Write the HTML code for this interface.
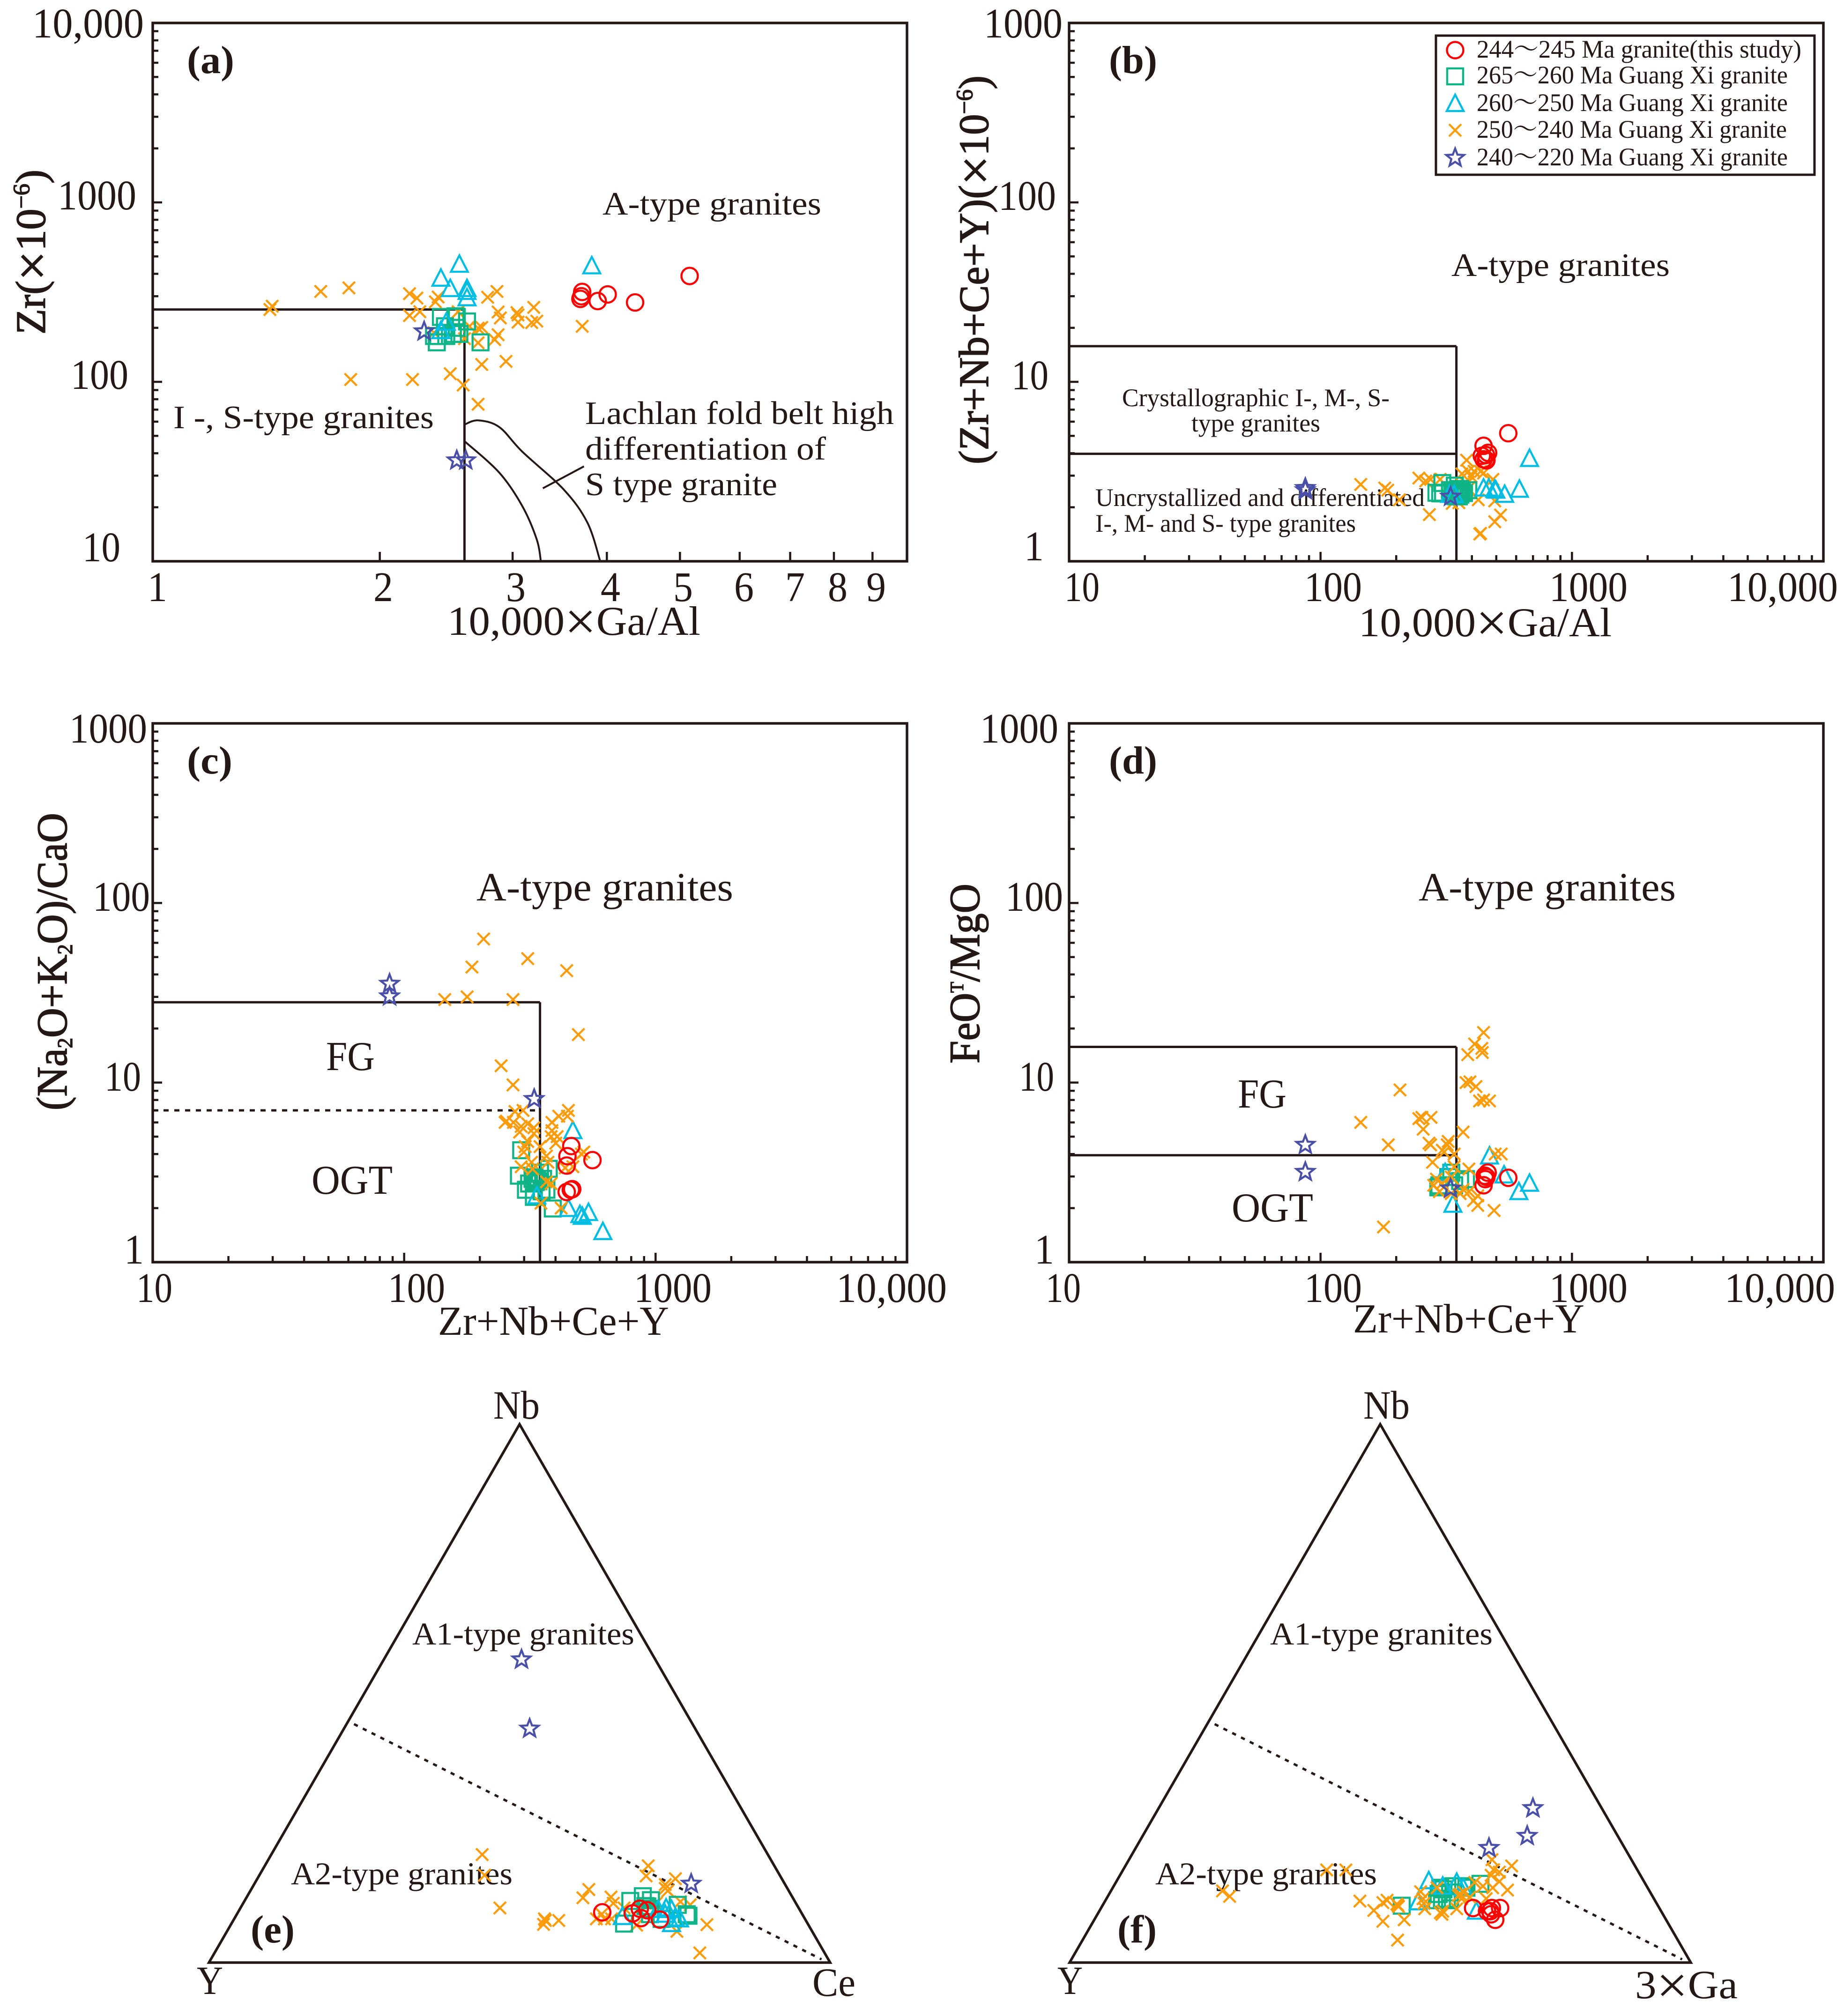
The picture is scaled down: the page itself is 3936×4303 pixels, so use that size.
<!DOCTYPE html>
<html lang="en">
<head>
<meta charset="utf-8">
<title>Granite discrimination diagrams</title>
<style>
html,body{margin:0;padding:0;background:#fff}
svg{display:block}
text{font-family:"Liberation Serif","Noto Serif CJK SC",serif;fill:#231815}
.bold{font-weight:700}
.ytitle{stroke:#231815;stroke-width:1.6px}
</style>
</head>
<body>
<svg id="figure" xmlns="http://www.w3.org/2000/svg" width="3936" height="4303" viewBox="0 0 3936 4303">
<rect width="3936" height="4303" fill="#ffffff"/>

<g id="panel-a">
<text x="69" y="80" font-size="90" textLength="238" lengthAdjust="spacingAndGlyphs">10,000</text>
<text x="123" y="447" font-size="90" textLength="168" lengthAdjust="spacingAndGlyphs">1000</text>
<text x="151" y="830" font-size="90" textLength="123" lengthAdjust="spacingAndGlyphs">100</text>
<text x="176" y="1198" font-size="90" textLength="81" lengthAdjust="spacingAndGlyphs">10</text>
<text x="336" y="1283" font-size="90" text-anchor="middle" textLength="42" lengthAdjust="spacingAndGlyphs">1</text>
<text x="818" y="1283" font-size="90" text-anchor="middle" textLength="42" lengthAdjust="spacingAndGlyphs">2</text>
<text x="1101" y="1283" font-size="90" text-anchor="middle" textLength="42" lengthAdjust="spacingAndGlyphs">3</text>
<text x="1303" y="1283" font-size="90" text-anchor="middle" textLength="42" lengthAdjust="spacingAndGlyphs">4</text>
<text x="1458" y="1283" font-size="90" text-anchor="middle" textLength="42" lengthAdjust="spacingAndGlyphs">5</text>
<text x="1588" y="1283" font-size="90" text-anchor="middle" textLength="42" lengthAdjust="spacingAndGlyphs">6</text>
<text x="1697" y="1283" font-size="90" text-anchor="middle" textLength="42" lengthAdjust="spacingAndGlyphs">7</text>
<text x="1788" y="1283" font-size="90" text-anchor="middle" textLength="42" lengthAdjust="spacingAndGlyphs">8</text>
<text x="1870" y="1283" font-size="90" text-anchor="middle" textLength="42" lengthAdjust="spacingAndGlyphs">9</text>
<text x="955" y="1355" font-size="88" textLength="540" lengthAdjust="spacingAndGlyphs">10,000<tspan font-size="116" dy="10">×</tspan><tspan dy="-10">Ga/Al</tspan></text>
<text class="ytitle" x="96" y="714" font-size="90" transform="rotate(-90 96 714)" textLength="352" lengthAdjust="spacingAndGlyphs">Zr(<tspan font-size="112" dy="10">×</tspan><tspan dy="-10">10</tspan><tspan dy="-34" font-size="50">−6</tspan><tspan dy="34">)</tspan></text>
<text class="bold" x="399" y="156" font-size="84" textLength="101" lengthAdjust="spacingAndGlyphs">(a)</text>
<text x="1286" y="458" font-size="70" textLength="467" lengthAdjust="spacingAndGlyphs">A-type granites</text>
<text x="370" y="914" font-size="70" textLength="556" lengthAdjust="spacingAndGlyphs">I -, S-type granites</text>
<text x="1249" y="905" font-size="70" textLength="659" lengthAdjust="spacingAndGlyphs">Lachlan fold belt high</text>
<text x="1249" y="981" font-size="70" textLength="514" lengthAdjust="spacingAndGlyphs">differentiation of</text>
<text x="1249" y="1057" font-size="70" textLength="410" lengthAdjust="spacingAndGlyphs">S type granite</text>
</g>

<g id="panel-b">
<text x="2100" y="80" font-size="90" textLength="168" lengthAdjust="spacingAndGlyphs">1000</text>
<text x="2131" y="448" font-size="90" textLength="123" lengthAdjust="spacingAndGlyphs">100</text>
<text x="2159" y="831" font-size="90" textLength="79" lengthAdjust="spacingAndGlyphs">10</text>
<text x="2186" y="1196" font-size="90" textLength="42" lengthAdjust="spacingAndGlyphs">1</text>
<text x="2272" y="1283" font-size="90" textLength="75" lengthAdjust="spacingAndGlyphs">10</text>
<text x="2784" y="1283" font-size="90" textLength="123" lengthAdjust="spacingAndGlyphs">100</text>
<text x="3307" y="1283" font-size="90" textLength="167" lengthAdjust="spacingAndGlyphs">1000</text>
<text x="3687" y="1283" font-size="90" textLength="236" lengthAdjust="spacingAndGlyphs">10,000</text>
<text x="2900" y="1358" font-size="88" textLength="540" lengthAdjust="spacingAndGlyphs">10,000<tspan font-size="116" dy="10">×</tspan><tspan dy="-10">Ga/Al</tspan></text>
<text class="ytitle" x="2109" y="991" font-size="90" transform="rotate(-90 2109 991)" textLength="830" lengthAdjust="spacingAndGlyphs">(Zr+Nb+Ce+Y)(<tspan font-size="112" dy="10">×</tspan><tspan dy="-10">10</tspan><tspan dy="-34" font-size="50">−6</tspan><tspan dy="34">)</tspan></text>
<text class="bold" x="2367" y="156" font-size="84" textLength="103" lengthAdjust="spacingAndGlyphs">(b)</text>
<text x="3098" y="589" font-size="70" textLength="466" lengthAdjust="spacingAndGlyphs">A-type granites</text>
<text x="2395" y="867" font-size="54" textLength="571" lengthAdjust="spacingAndGlyphs">Crystallographic I-, M-, S-</text>
<text x="2543" y="921" font-size="54" textLength="275" lengthAdjust="spacingAndGlyphs">type granites</text>
<text x="2338" y="1080" font-size="54" textLength="703" lengthAdjust="spacingAndGlyphs">Uncrystallized and differentiated</text>
<text x="2338" y="1135" font-size="54" textLength="556" lengthAdjust="spacingAndGlyphs">I-, M- and S- type granites</text>
</g>

<g id="panel-c">
<text x="148" y="1585" font-size="90" textLength="166" lengthAdjust="spacingAndGlyphs">1000</text>
<text x="198" y="1944" font-size="90" textLength="122" lengthAdjust="spacingAndGlyphs">100</text>
<text x="223" y="2328" font-size="90" textLength="78" lengthAdjust="spacingAndGlyphs">10</text>
<text x="265" y="2697" font-size="90" textLength="42" lengthAdjust="spacingAndGlyphs">1</text>
<text x="291" y="2779" font-size="90" textLength="77" lengthAdjust="spacingAndGlyphs">10</text>
<text x="828" y="2779" font-size="90" textLength="122" lengthAdjust="spacingAndGlyphs">100</text>
<text x="1353" y="2779" font-size="90" textLength="166" lengthAdjust="spacingAndGlyphs">1000</text>
<text x="1785" y="2779" font-size="90" textLength="236" lengthAdjust="spacingAndGlyphs">10,000</text>
<text x="935" y="2849" font-size="88" textLength="493" lengthAdjust="spacingAndGlyphs">Zr+Nb+Ce+Y</text>
<text class="ytitle" x="142" y="2370" font-size="92" transform="rotate(-90 142 2370)" textLength="635" lengthAdjust="spacingAndGlyphs">(Na<tspan dy="12" font-size="46">2</tspan><tspan dy="-12">O+K</tspan><tspan dy="12" font-size="46">2</tspan><tspan dy="-12">O)/CaO</tspan></text>
<text class="bold" x="399" y="1651" font-size="84" textLength="97" lengthAdjust="spacingAndGlyphs">(c)</text>
<text x="1017" y="1922" font-size="86" textLength="548" lengthAdjust="spacingAndGlyphs">A-type granites</text>
<text x="696" y="2284" font-size="88" textLength="104" lengthAdjust="spacingAndGlyphs">FG</text>
<text x="665" y="2548" font-size="88" textLength="173" lengthAdjust="spacingAndGlyphs">OGT</text>
</g>

<g id="panel-d">
<text x="2092" y="1585" font-size="90" textLength="167" lengthAdjust="spacingAndGlyphs">1000</text>
<text x="2146" y="1944" font-size="90" textLength="123" lengthAdjust="spacingAndGlyphs">100</text>
<text x="2175" y="2328" font-size="90" textLength="75" lengthAdjust="spacingAndGlyphs">10</text>
<text x="2208" y="2697" font-size="90" textLength="42" lengthAdjust="spacingAndGlyphs">1</text>
<text x="2232" y="2779" font-size="90" textLength="75" lengthAdjust="spacingAndGlyphs">10</text>
<text x="2784" y="2779" font-size="90" textLength="123" lengthAdjust="spacingAndGlyphs">100</text>
<text x="3307" y="2779" font-size="90" textLength="167" lengthAdjust="spacingAndGlyphs">1000</text>
<text x="3681" y="2779" font-size="90" textLength="236" lengthAdjust="spacingAndGlyphs">10,000</text>
<text x="2888" y="2844" font-size="88" textLength="494" lengthAdjust="spacingAndGlyphs">Zr+Nb+Ce+Y</text>
<text class="ytitle" x="2090" y="2270" font-size="92" transform="rotate(-90 2090 2270)" textLength="384" lengthAdjust="spacingAndGlyphs">FeO<tspan dy="-34" font-size="40">T</tspan><tspan dy="34">/MgO</tspan></text>
<text class="bold" x="2367" y="1651" font-size="84" textLength="103" lengthAdjust="spacingAndGlyphs">(d)</text>
<text x="3028" y="1922" font-size="86" textLength="549" lengthAdjust="spacingAndGlyphs">A-type granites</text>
<text x="2642" y="2364" font-size="88" textLength="104" lengthAdjust="spacingAndGlyphs">FG</text>
<text x="2629" y="2607" font-size="88" textLength="174" lengthAdjust="spacingAndGlyphs">OGT</text>
</g>

<g id="panel-e">
<text x="1053" y="3028" font-size="86" textLength="99" lengthAdjust="spacingAndGlyphs">Nb</text>
<text x="420" y="4256" font-size="86" textLength="56" lengthAdjust="spacingAndGlyphs">Y</text>
<text x="1734" y="4260" font-size="86" textLength="92" lengthAdjust="spacingAndGlyphs">Ce</text>
<text x="880" y="3510" font-size="68" textLength="474" lengthAdjust="spacingAndGlyphs">A1-type granites</text>
<text x="621" y="4022" font-size="68" textLength="473" lengthAdjust="spacingAndGlyphs">A2-type granites</text>
<text class="bold" x="535" y="4146" font-size="84" textLength="94" lengthAdjust="spacingAndGlyphs">(e)</text>
</g>

<g id="panel-f">
<text x="2910" y="3028" font-size="86" textLength="99" lengthAdjust="spacingAndGlyphs">Nb</text>
<text x="2257" y="4256" font-size="86" textLength="54" lengthAdjust="spacingAndGlyphs">Y</text>
<text x="3490" y="4265" font-size="86" textLength="219" lengthAdjust="spacingAndGlyphs">3<tspan font-size="112" dy="10">×</tspan><tspan dy="-10">Ga</tspan></text>
<text x="2711" y="3510" font-size="68" textLength="475" lengthAdjust="spacingAndGlyphs">A1-type granites</text>
<text x="2466" y="4022" font-size="68" textLength="473" lengthAdjust="spacingAndGlyphs">A2-type granites</text>
<text class="bold" x="2385" y="4146" font-size="84" textLength="84" lengthAdjust="spacingAndGlyphs">(f)</text>
</g>

<g id="legend">
<rect x="3065" y="76" width="808" height="297" fill="#ffffff" stroke="#231815" stroke-width="5"/>
<text x="3152" y="123" font-size="54" textLength="693" lengthAdjust="spacingAndGlyphs">244～245 Ma granite(this study)</text>
<text x="3152" y="178" font-size="54" textLength="664" lengthAdjust="spacingAndGlyphs">265～260 Ma Guang Xi granite</text>
<text x="3152" y="237" font-size="54" textLength="664" lengthAdjust="spacingAndGlyphs">260～250 Ma Guang Xi granite</text>
<text x="3152" y="294" font-size="54" textLength="662" lengthAdjust="spacingAndGlyphs">250～240 Ma Guang Xi granite</text>
<text x="3152" y="353" font-size="54" textLength="664" lengthAdjust="spacingAndGlyphs">240～220 Ma Guang Xi granite</text>
</g>
</svg>

<script>
/* ---------- Panel (a): [10000*Ga/Al, Zr] ---------- */
const aCross = [[1.43,253],[1.44,264],[1.67,319],[1.82,334],[2.19,310],[2.24,293],[2.26,246],[2.19,234],[2.37,279],[2.39,297],[1.83,103],[2.21,103],[2.48,111],[2.58,96],[2.70,75],[2.73,125],[2.94,130],[2.78,296],[2.86,319],[2.87,245],[2.89,227],[3.04,243],[3.05,236],[3.05,215],[3.18,214],[3.2,260],[3.23,218],[3.71,204],[2.87,183],[2.84,172],[2.70,199],[2.73,201],[2.63,204],[2.54,246],[2.70,165],[2.59,174],[2.36,188]];
const aCircle = [[3.71,317],[3.70,300],[3.69,290],[3.89,282],[4.01,307],[4.36,277],[5.15,389]];
const aTriangle = [[2.55,452],[2.41,378],[2.48,331],[2.61,331],[2.61,319],[2.61,294],[3.82,443],[2.45,215],[2.41,193]];
const aSquare = [[2.41,230],[2.52,232],[2.61,217],[2.44,204],[2.50,185],[2.53,200],[2.39,180],[2.38,166],[2.72,166],[2.36,180],[2.45,180],[2.55,185],[2.53,230]];
const aStar = [[2.29,191],[2.53,36.5],[2.60,36.5]];
const aOuterCurve = [[2.59,57.8],[2.70,61],[2.88,56],[3.09,40.8],[3.51,25],[3.77,16.4],[3.92,10]];
const aInnerCurve = [[2.59,46.7],[2.88,31.2],[3.09,20.3],[3.23,13.2],[3.27,10]];
const aLeader = [[3.29,25.5],[3.73,33.8]];

/* ---------- Panel (b): [10000*Ga/Al, Zr+Nb+Ce+Y] ---------- */
const bCross = [[144.5,2.68],[180,2.56],[185,2.49],[206,2.20],[246,2.91],[271,1.82],[424,2.20],[493,2.17],[520,1.81],[493,1.66],[433,1.43],[430,1.42],[381,3.66],[387,3.17],[365,3.07],[408,3.17],[433,3.17],[397,2.97],[445,3.10],[485,2.86],[355,2.12],[334,2.10],[381,2.70],[387,2.54],[274,2.86],[299,2.86],[262,2.80]];
const bCircle = [[558,5.17],[445,4.40],[464,4.02],[455,3.91],[445,3.70],[455,3.68],[438,3.87],[457,3.65]];
const bTriangle = [[678,3.74],[618,2.52],[540,2.36],[498,2.49],[445,2.56],[467,2.56],[493,2.52],[326,2.36],[340,2.35]];
const bSquare = [[305,2.73],[342,2.64],[289,2.41],[307,2.39],[355,2.49],[387,2.49],[340,2.35],[299,2.39],[359,2.53],[327,2.49],[334,2.44],[350,2.40],[365,2.44],[360,2.35],[372,2.40],[345,2.30],[355,2.30]];
const bStar = [[87,2.56],[87,2.49],[329,2.29]];

/* ---------- Panel (c): [Zr+Nb+Ce+Y, (Na2O+K2O)/CaO] ---------- */
const cCross = [[207,63],[186,44],[310,49],[443,42],[145,29],[178,30],[271,29],[493,18.5],[243,12.4],[271,9.7],[450,7.0],[446,6.5],[412,6.5],[387,6.0],[387,5.4],[384,5.0],[406,5.0],[401,4.6],[347,4.4],[368,3.9],[373,3.6],[469,3.4],[507,4.0],[518,4.1],[437,3.35],[303,4.4],[299,4.1],[292,3.4],[321,3.6],[324,3.3],[368,2.8],[384,2.74],[350,2.13],[421,2.0],[297,7.0],[276,6.9],[255,6.1],[252,6.0],[272,6.0],[292,5.7],[310,5.9],[328,5.6],[288,5.3],[328,5.2],[310,4.7]];
const cCircle = [[462,4.43],[446,3.89],[443,3.45],[561,3.70],[443,2.46],[460,2.53],[466,2.55]];
const cTriangle = [[469,5.4],[450,1.99],[500,1.84],[541,1.89],[511,1.80],[617,1.48],[337,2.34]];
const cSquare = [[292,4.2],[286,3.03],[305,2.53],[328,2.31],[390,1.99],[376,3.31],[347,3.15],[357,2.91],[352,2.48],[368,2.53],[337,2.85],[314,2.74],[324,2.91],[330,2.97],[337,2.91],[333,2.79],[342,2.82],[328,2.85]];
const cStar = [[87.5,35.5],[87.5,30.2],[329,8.1]];

/* ---------- Panel (d): [Zr+Nb+Ce+Y, FeOT/MgO] ---------- */
const dCross = [[445,19],[410,16.4],[438,15.5],[440,14.7],[385,14.3],[379,10],[393,10.1],[415,9.5],[429,7.9],[445,8.0],[470,7.9],[207,9.1],[144.5,6.0],[246,6.3],[253,6.4],[275,6.4],[256,5.5],[369,5.3],[186,4.5],[270,4.6],[274,4.5],[322,4.7],[319,4.5],[305,4.2],[310,4.1],[340,4.0],[279,3.6],[495,4.0],[523,4.0],[178,1.57],[490,1.94],[422,2.07],[406,2.2],[389,2.47],[422,2.34],[289,2.9],[305,2.75],[331,2.98],[340,3.4],[389,3.3],[297,2.47],[282,2.68],[369,2.54],[359,2.41],[331,2.41]];
const dCircle = [[558,2.95],[450,3.03],[462,3.15],[452,2.9],[445,2.68],[457,2.98]];
const dTriangle = [[678,2.75],[615,2.47],[336,2.1],[470,3.9],[537,3.06],[313,3.15]];
const dSquare = [[294,2.61],[331,3.15],[359,2.83],[322,2.98],[297,2.68],[340,2.68],[379,2.9]];
const dStar = [[87,4.5],[87,3.18],[329,2.57]];

/* ---------- Panel (e): [Ce %, Nb %] ---------- */
const eCross = [[33.95,20.07],[36.24,16.24],[41.76,10.15],[49.95,8.12],[50.31,7.1],[50.23,7.83],[52.39,7.83],[54.36,13.57],[54.18,12.04],[58.63,12.18],[59.58,11.02],[58.73,8.99],[58.3,8.12],[59.6,8.12],[60.75,8.12],[61.72,17.98],[62.32,16.1],[67.3,15.57],[66.2,14.5],[67.2,13.34],[66.56,13.78],[76.63,7.05],[78.11,1.8],[72.42,5.8],[70.24,11.31],[65.36,6.96],[61.75,10.15],[66.49,11.02],[72.11,10.73]];
const eCircle = [[58.64,9.34],[63.64,9.14],[64.35,10.0],[65.71,9.72],[65.42,8.26],[68.6,7.98]];
const eSquare = [[62.1,11.45],[63.68,12.33],[65.35,11.6],[70.1,10.73],[63.2,7.25],[72.41,8.99],[68.81,8.12],[65.35,10.44],[72.84,8.7],[65.0,10.5],[66.0,10.0],[66.5,9.0]];
const eTriangle = [[62.26,8.56],[67.37,9.86],[68.51,10.15],[69.53,9.86],[71.69,8.12],[70.83,7.25],[70.89,8.27],[68.95,8.99]];
const eStar = [[22.16,56.31],[29.89,43.46],[70.3,14.65]];

/* ---------- Panel (f): [3*Ga %, Nb %] ---------- */
const fCross = [[41.02,11.43],[44.13,9.69],[44.86,11.15],[45.31,11.58],[46.6,7.67],[47.45,10.71],[47.25,10.86],[47.73,10.42],[49.89,7.95],[50.71,4.18],[49.92,13.17],[50.96,11.87],[52.17,9.99],[51.54,11.0],[52.19,13.9],[55.05,9.26],[55.29,9.55],[55.45,8.97],[57.32,9.99],[56.35,12.45],[56.98,13.03],[57.17,11.87],[56.47,12.74],[57.76,14.91],[58.35,12.16],[58.43,19.12],[59.64,17.24],[59.75,16.22],[60.78,16.8],[61.65,15.06],[62.18,17.96],[63.76,13.47],[61.16,13.9],[61.13,11.87],[59.44,14.19],[32.78,17.21],[35.86,17.21],[17.96,13.32],[19.61,12.31]];
const fCircle = [[59.89,10.13],[62.42,9.55],[62.92,10.13],[64.24,10.13],[63.37,8.97],[64.54,7.95],[62.95,9.55]];
const fSquare = [[48.18,10.57],[53.39,13.61],[54.69,14.19],[56.27,14.19],[58.82,14.63],[54.0,11.87],[53.04,12.74],[54.74,13.03],[53.36,11.58],[54.94,11.58],[55.32,11.87],[56.94,13.9],[52.72,13.9]];
const fTriangle = [[50.22,15.2],[50.46,11.29],[52.97,14.19],[54.86,14.91],[56.41,13.9],[60.7,9.55]];
const fStar = [[60.24,28.69],[61.9,23.53],[56.87,21.29]];

/* ---------- Field boundaries ---------- */
const aBoundary = {xLimit:2.59, yLimit:253};
const bBoundary = {xLimit:347, yUpper:15.8, yLower:3.97};
const cBoundary = {xLimit:347, yUpper:28, yDotted:7.0};
const dBoundary = {xLimit:347, yUpper:15.8, yLower:3.94};
const ternaryDivider = [[1.2,44.3],[98.3,0.6]];

/* ---------- Legend order ---------- */
const legendShapes = ['circle','square','triangle','cross','star'];

const NS = 'http://www.w3.org/2000/svg';
const INK = '#231815';
const COLORS = {circle:'#ff0000',square:'#0fb487',triangle:'#00bde3',cross:'#fd9c0b',star:'#4a50a7'};

function logScale(min,max,a,b){
  const l0=Math.log10(min), l1=Math.log10(max);
  return v => a+(Math.log10(v)-l0)/(l1-l0)*(b-a);
}
function line(parent,x1,y1,x2,y2,name,w,dash){
  const l=document.createElementNS(NS,'line');
  l.setAttribute('x1',x1);l.setAttribute('y1',y1);l.setAttribute('x2',x2);l.setAttribute('y2',y2);
  l.setAttribute('stroke',INK);l.setAttribute('stroke-width',w||5);
  if(dash)l.setAttribute('stroke-dasharray',dash);
  
  
  parent.appendChild(l);
  return l;
}
function smoothPath(parent,pts,name){
  let d='M'+pts[0][0]+' '+pts[0][1];
  for(let i=0;i<pts.length-1;i++){
    const p0=pts[i-1]||pts[i],p1=pts[i],p2=pts[i+1],p3=pts[i+2]||p2;
    d+=' C'+(p1[0]+(p2[0]-p0[0])/6)+' '+(p1[1]+(p2[1]-p0[1])/6)+' '+(p2[0]-(p3[0]-p1[0])/6)+' '+(p2[1]-(p3[1]-p1[1])/6)+' '+p2[0]+' '+p2[1];
  }
  const c=document.createElementNS(NS,'path');
  c.setAttribute('d',d);c.setAttribute('fill','none');c.setAttribute('stroke',INK);c.setAttribute('stroke-width',4);
  
  
  parent.appendChild(c);
}
function marker(parent,shape,x,y,name){
  let m;
  if(shape==='circle'){
    m=document.createElementNS(NS,'circle');
    m.setAttribute('cx',x);m.setAttribute('cy',y);m.setAttribute('r',17.5);
  }else if(shape==='square'){
    m=document.createElementNS(NS,'rect');
    m.setAttribute('x',x-17);m.setAttribute('y',y-17);m.setAttribute('width',34);m.setAttribute('height',34);
  }else if(shape==='triangle'){
    m=document.createElementNS(NS,'polygon');
    m.setAttribute('points',[[x,y-19],[x+18,y+16],[x-18,y+16]].map(p=>p.join(',')).join(' '));
  }else if(shape==='cross'){
    m=document.createElementNS(NS,'path');
    m.setAttribute('d','M'+(x-13)+' '+(y-13)+'L'+(x+13)+' '+(y+13)+'M'+(x+13)+' '+(y-13)+'L'+(x-13)+' '+(y+13));
  }else{
    const pts=[];
    for(let i=0;i<10;i++){
      const r=i%2?8.5:20,t=-Math.PI/2+i*Math.PI/5;
      pts.push((x+r*Math.cos(t)).toFixed(1)+','+(y+r*Math.sin(t)).toFixed(1));
    }
    m=document.createElementNS(NS,'polygon');
    m.setAttribute('points',pts.join(' '));
  }
  m.setAttribute('fill','none');
  m.setAttribute('stroke',COLORS[shape]);
  m.setAttribute('stroke-width',4.4);
  
  
  parent.appendChild(m);
}
function plotSeries(parent,shape,data,px,py,prefix){
  const g=document.createElementNS(NS,'g');
  
  
  data.forEach(d=>marker(g,shape,px(d),py(d),shape+'-point'));
  parent.appendChild(g);
}
function logPanel(id,box,xMin,xMax,yMin,yMax,minorLenX){
  const parent=document.getElementById(id);
  const sx=logScale(xMin,xMax,box.l,box.r), sy=logScale(yMin,yMax,box.b,box.t);
  const frame=document.createElementNS(NS,'rect');
  frame.setAttribute('x',box.l);frame.setAttribute('y',box.t);frame.setAttribute('width',box.r-box.l);frame.setAttribute('height',box.b-box.t);
  frame.setAttribute('fill','none');frame.setAttribute('stroke',INK);frame.setAttribute('stroke-width',5.5);
  
  
  parent.appendChild(frame);
  for(let e=Math.log10(xMin);e<Math.log10(xMax);e++){
    for(let k=1;k<10;k++){
      const v=k*Math.pow(10,e);
      if(v<=xMin||v>=xMax)continue;
      line(parent,sx(v),box.b,sx(v),box.b-(k===1?20:minorLenX),'x-axis-tick',4.5);
    }
  }
  for(let e=Math.log10(yMin);e<Math.log10(yMax);e++){
    for(let k=1;k<10;k++){
      const v=k*Math.pow(10,e);
      if(v<=yMin||v>=yMax)continue;
      line(parent,box.l,sy(v),box.l+(k===1?20:12),sy(v),'y-axis-tick',4.5);
    }
  }
  return {parent,sx,sy};
}
function series(p,prefix,order,sets){
  order.forEach(s=>plotSeries(p.parent,s,sets[s],d=>p.sx(d[0]),d=>p.sy(d[1]),prefix));
}

const TOP_BOX={t:49,b:1198}, MID_BOX={t:1544,b:2694};

/* Panel a */
const pa=logPanel('panel-a',{l:326,r:1936,t:TOP_BOX.t,b:TOP_BOX.b},1,10,10,10000,20);
line(pa.parent,pa.sx(1),pa.sy(aBoundary.yLimit),pa.sx(aBoundary.xLimit),pa.sy(aBoundary.yLimit),'field-boundary-horizontal');
line(pa.parent,pa.sx(aBoundary.xLimit),pa.sy(aBoundary.yLimit),pa.sx(aBoundary.xLimit),pa.sy(10),'field-boundary-vertical');
smoothPath(pa.parent,aOuterCurve.map(d=>[pa.sx(d[0]),pa.sy(d[1])]),'lachlan-outer-curve');
smoothPath(pa.parent,aInnerCurve.map(d=>[pa.sx(d[0]),pa.sy(d[1])]),'lachlan-inner-curve');
line(pa.parent,pa.sx(aLeader[0][0]),pa.sy(aLeader[0][1]),pa.sx(aLeader[1][0]),pa.sy(aLeader[1][1]),'lachlan-leader-line',4);
series(pa,'panel-a',['cross','square','triangle','circle','star'],{cross:aCross,square:aSquare,triangle:aTriangle,circle:aCircle,star:aStar});

/* Panel b */
const pb=logPanel('panel-b',{l:2282,r:3892,t:TOP_BOX.t,b:TOP_BOX.b},10,10000,1,1000,13);
line(pb.parent,pb.sx(10),pb.sy(bBoundary.yUpper),pb.sx(bBoundary.xLimit),pb.sy(bBoundary.yUpper),'field-boundary-upper');
line(pb.parent,pb.sx(10),pb.sy(bBoundary.yLower),pb.sx(bBoundary.xLimit),pb.sy(bBoundary.yLower),'field-boundary-lower');
line(pb.parent,pb.sx(bBoundary.xLimit),pb.sy(bBoundary.yUpper),pb.sx(bBoundary.xLimit),pb.sy(1),'field-boundary-vertical');
series(pb,'panel-b',['cross','square','triangle','circle','star'],{cross:bCross,square:bSquare,triangle:bTriangle,circle:bCircle,star:bStar});

/* Panel c */
const pc=logPanel('panel-c',{l:326,r:1936,t:MID_BOX.t,b:MID_BOX.b},10,10000,1,1000,13);
line(pc.parent,pc.sx(10),pc.sy(cBoundary.yUpper),pc.sx(cBoundary.xLimit),pc.sy(cBoundary.yUpper),'field-boundary-upper');
line(pc.parent,pc.sx(10),pc.sy(cBoundary.yDotted),pc.sx(cBoundary.xLimit),pc.sy(cBoundary.yDotted),'field-boundary-dotted',5,'11 12');
line(pc.parent,pc.sx(cBoundary.xLimit),pc.sy(cBoundary.yUpper),pc.sx(cBoundary.xLimit),pc.sy(1),'field-boundary-vertical');
series(pc,'panel-c',['square','triangle','cross','circle','star'],{cross:cCross,square:cSquare,triangle:cTriangle,circle:cCircle,star:cStar});

/* Panel d */
const pd=logPanel('panel-d',{l:2282,r:3892,t:MID_BOX.t,b:MID_BOX.b},10,10000,1,1000,13);
line(pd.parent,pd.sx(10),pd.sy(dBoundary.yUpper),pd.sx(dBoundary.xLimit),pd.sy(dBoundary.yUpper),'field-boundary-upper');
line(pd.parent,pd.sx(10),pd.sy(dBoundary.yLower),pd.sx(dBoundary.xLimit),pd.sy(dBoundary.yLower),'field-boundary-lower');
line(pd.parent,pd.sx(dBoundary.xLimit),pd.sy(dBoundary.yUpper),pd.sx(dBoundary.xLimit),pd.sy(1),'field-boundary-vertical');
series(pd,'panel-d',['square','triangle','cross','circle','star'],{cross:dCross,square:dSquare,triangle:dTriangle,circle:dCircle,star:dStar});

/* Ternary panels */
function ternaryPanel(id,left,width,prefix,order,sets){
  const parent=document.getElementById(id);
  const base=4189,height=1149;
  const tx=d=>left+width*(d[0]+d[1]/2)/100;
  const ty=d=>base-height*d[1]/100;
  const outline=document.createElementNS(NS,'polygon');
  outline.setAttribute('points',[[0,0],[100,0],[0,100]].map(c=>tx(c)+','+ty(c)).join(' '));
  outline.setAttribute('fill','none');outline.setAttribute('stroke',INK);outline.setAttribute('stroke-width',5.5);
  
  
  parent.appendChild(outline);
  line(parent,tx(ternaryDivider[0]),ty(ternaryDivider[0]),tx(ternaryDivider[1]),ty(ternaryDivider[1]),'a1-a2-divider',5,'9 12');
  order.forEach(s=>plotSeries(parent,s,sets[s],tx,ty,prefix));
}
ternaryPanel('panel-e',446,1326,'panel-e',['cross','square','triangle','circle','star'],{cross:eCross,square:eSquare,triangle:eTriangle,circle:eCircle,star:eStar});
ternaryPanel('panel-f',2283,1326,'panel-f',['square','triangle','cross','circle','star'],{cross:fCross,square:fSquare,triangle:fTriangle,circle:fCircle,star:fStar});

/* Legend markers */
const legendGroup=document.getElementById('legend');
document.getElementById('figure').appendChild(legendGroup);
const legendRowCenters=[107,163,221,278,337];
legendShapes.forEach((s,i)=>marker(legendGroup,s,3106,legendRowCenters[i],'legend-marker-'+s));
</script>
</body>
</html>
